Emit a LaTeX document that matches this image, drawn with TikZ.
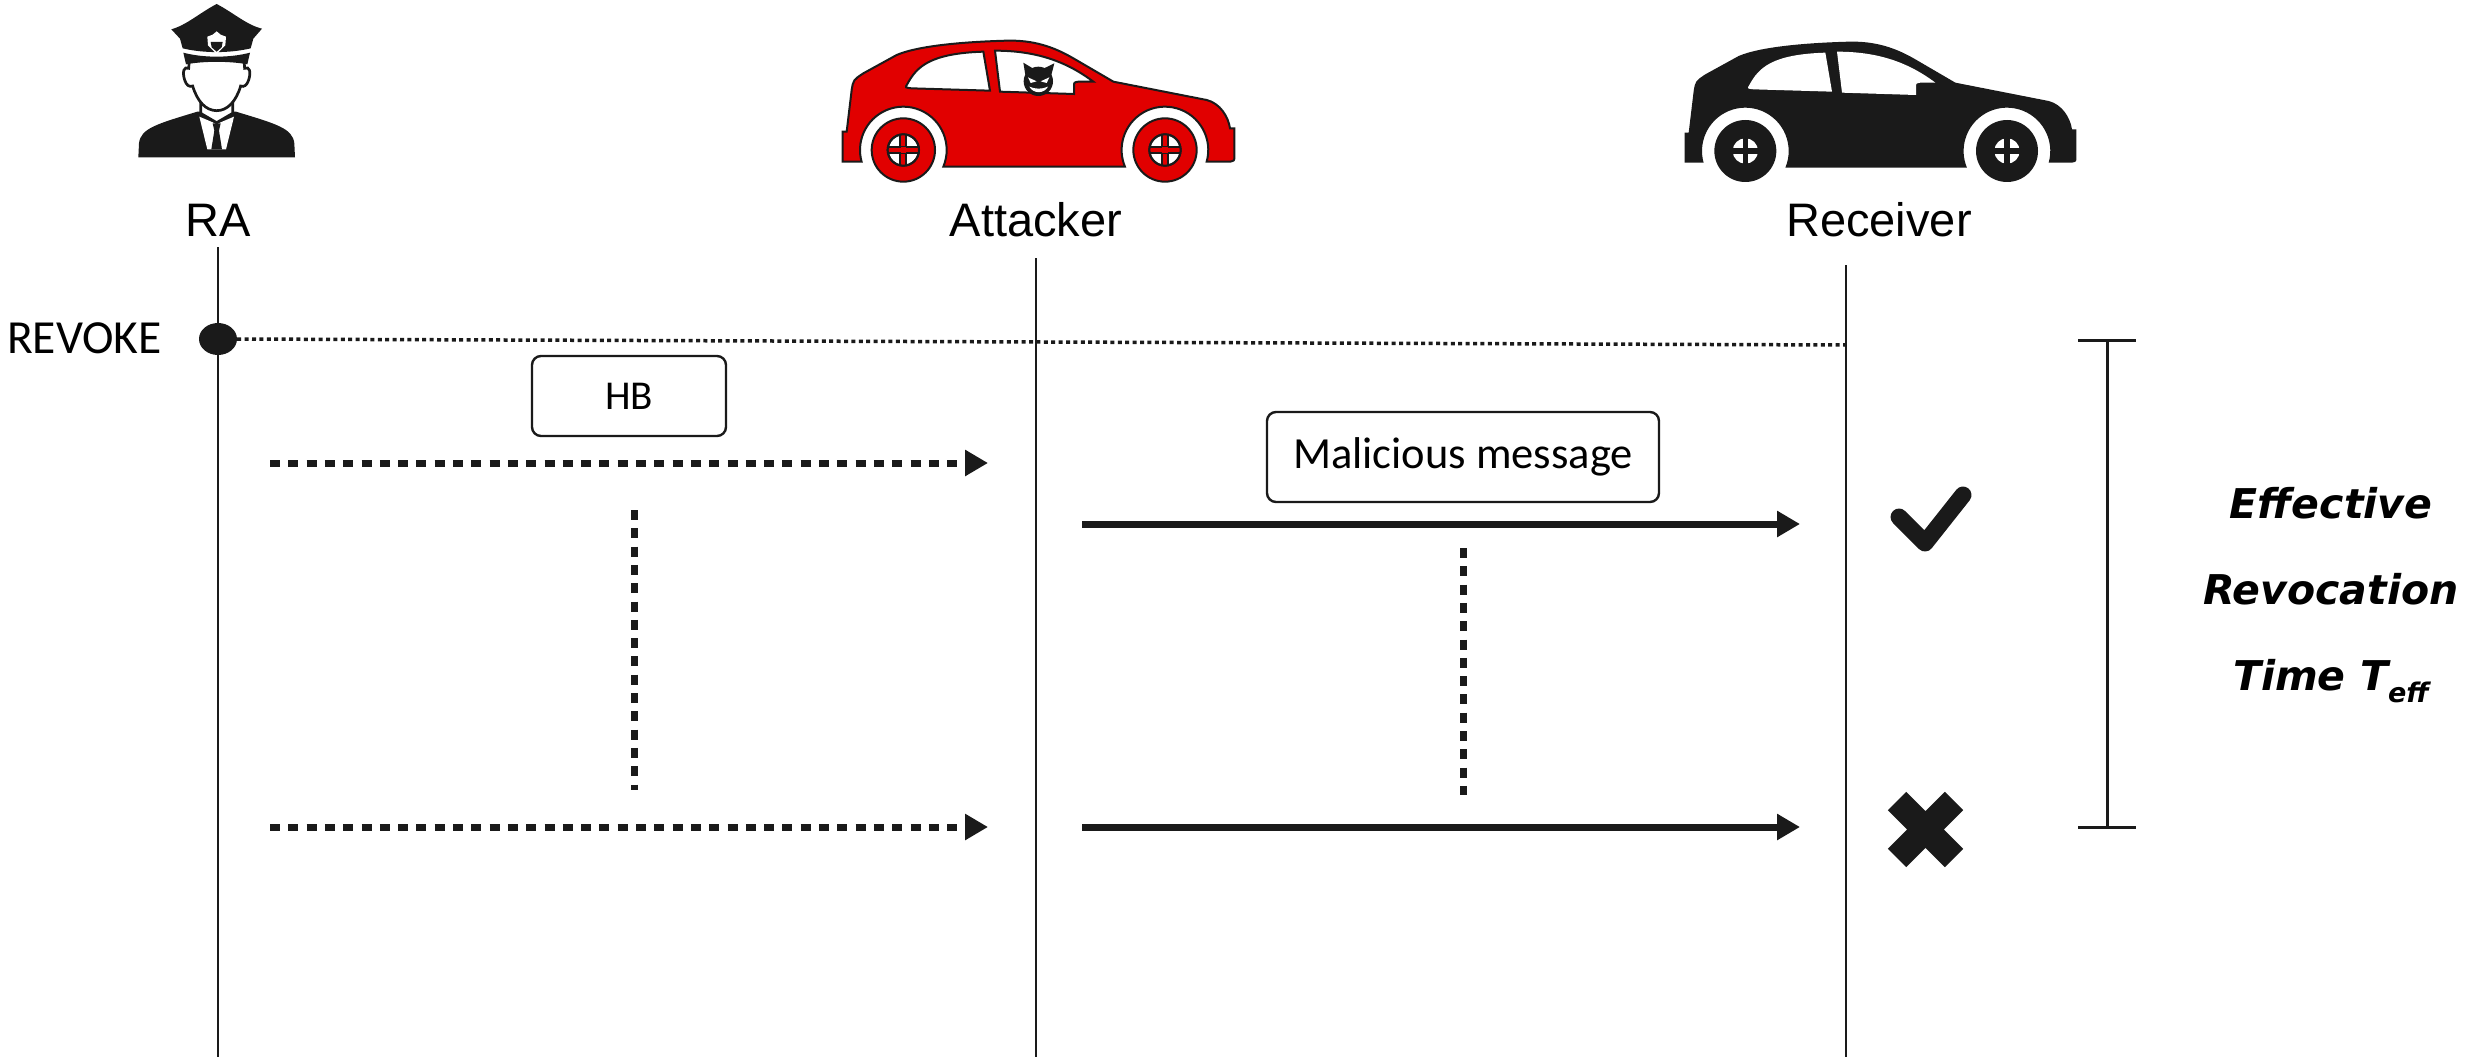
\documentclass[tikz,border=0pt]{standalone}
\usepackage{fontspec}
\setmainfont{Liberation Sans}
\newfontfamily\uifont{Carlito}
\newfontfamily\notefont{DejaVu Sans}
\usetikzlibrary{arrows.meta,shapes.geometric}

\definecolor{ink}{HTML}{1A1A1A}
\definecolor{carred}{HTML}{E10000}

% side view of a hatchback, drawn in a 3x local grid
\newcommand\carbodypath{(370,440) arc[start angle=22.6, end angle=-195.6, radius=130]
  -- (68,425) -- (68,335) -- (80,335) -- (95,210) .. controls (100,180) .. (130,160)
  -- (230,105) .. controls (300,75) and (450,65) .. (560,62)
  .. controls (640,60) and (700,80) .. (760,115) -- (880,185) -- (1160,240)
  .. controls (1200,250) and (1225,290) .. (1230,325) -- (1243,325) -- (1243,410)
  .. controls (1243,422) .. (1230,425) -- (1160,425)
  arc[start angle=15.6, end angle=-202.6, radius=130] -- cycle}
\newcommand\rearwindowpath{(262,192) .. controls (290,140) and (330,100) .. (490,95)
  -- (510,212) -- (275,205) .. controls (255,203) .. (262,192) -- cycle}
\newcommand\frontwindowpath{(525,92) .. controls (650,92) and (740,125) .. (820,185)
  -- (775,185) .. controls (762,187) .. (762,200) -- (762,222) -- (540,215) -- cycle}

\begin{document}
\begin{tikzpicture}[x=1pt,y=-1pt,
  lifeline/.style={draw=ink, line width=2.4pt},
  actor/.style={font=\fontsize{47}{56}\selectfont, anchor=base, inner sep=0pt},
  msgbox/.style={draw=ink, line width=2.4pt, rounded corners=9pt, fill=white,
    font=\uifont\fontsize{44.5}{52}\selectfont, inner sep=0pt},
  hbarrow/.style={draw=ink, line width=7pt, dash pattern=on 10pt off 8.3pt,
    -{Triangle[length=23pt,width=25pt]}},
  msgarrow/.style={draw=ink, line width=7pt, -{Triangle[length=23pt,width=25pt]}},
  vdots/.style={draw=ink, line width=7pt, dash pattern=on 10pt off 8.3pt},
  revdot/.style={ellipse, fill=ink, minimum width=38pt, minimum height=32pt, inner sep=0pt},
  revline/.style={draw=ink, line width=3.5pt, dash pattern=on 4pt off 3.4pt},
  bracket/.style={draw=ink, line width=3pt},
  carline/.style={draw=ink, line width=2pt},
]
\useasboundingbox (0,0) rectangle (2491,1057);

% ---------- RA: police officer ----------
\begin{scope}[shift={(120,0)}, scale=1/3]
  \fill[ink] (55,472) -- (57,430) .. controls (62,385) and (110,372) .. (232,335)
    -- (348,335) .. controls (470,372) and (518,385) .. (523,430) -- (525,472) -- cycle;
  \fill[white] (238,350) -- (290,372) -- (342,350) -- (318,448) -- (262,448) -- cycle;
  \draw[ink, line width=2.7pt, fill=white] (242,288) -- (242,340) -- (290,368) -- (338,340) -- (338,288);
  \fill[ink] (278,370) -- (302,370) -- (297,392) -- (306,448) -- (274,448) -- (283,392) -- cycle;
  \filldraw[fill=white, draw=ink, line width=2.7pt] (208,180) -- (206,205)
    .. controls (192,198) and (186,215) .. (194,240) .. controls (199,256) and (208,262) .. (218,258)
    .. controls (232,305) and (258,332) .. (290,332) .. controls (322,332) and (348,305) .. (362,258)
    .. controls (372,262) and (381,256) .. (386,240) .. controls (394,215) and (388,198) .. (374,205)
    -- (372,180) -- cycle;
  % cap
  \fill[ink] (154,88) .. controls (200,75) and (240,38) .. (290,12)
    .. controls (340,38) and (380,75) .. (426,86) -- (400,116) -- (392,145)
    .. controls (330,160) and (250,160) .. (188,145) -- (180,116) -- cycle;
  \fill[ink] (190,158) .. controls (250,174) and (330,174) .. (390,158) -- (382,193)
    .. controls (330,183) and (250,183) .. (198,193) -- cycle;
  \fill[white] (262,110) -- (278,104) -- (290,94) -- (302,104) -- (318,110) -- (316,136)
    -- (290,162) -- (264,136) -- cycle;
  \fill[ink] (272,126) -- (308,126) -- (305,142) -- (290,155) -- (275,142) -- cycle;
\end{scope}

% ---------- Attacker: red car ----------
\begin{scope}[shift={(820,20)}, scale=1/3]
  \filldraw[fill=carred, carline] \carbodypath;
  \filldraw[fill=white, carline] \rearwindowpath;
  \filldraw[fill=white, carline] \frontwindowpath;
  \foreach \wx in {250,1035}{
    \filldraw[fill=carred, carline] (\wx,390) circle[radius=95];
    \filldraw[fill=white, carline] (\wx,390) circle[radius=47];
    \begin{scope}
      \clip (\wx,390) circle[radius=47];
      \filldraw[fill=carred, carline] (\wx-9,330) rectangle (\wx+9,450);
      \filldraw[fill=carred, carline] (\wx-60,381) rectangle (\wx+60,399);
      \fill[carred] (\wx-8,382) rectangle (\wx+8,398);
    \end{scope}
    \draw[carline] (\wx,390) circle[radius=47];
  }
  % devil driver
  \fill[ink] (655,184) circle[radius=44];
  \fill[ink] (616,165) -- (610,128) -- (640,146) -- cycle;
  \fill[ink] (694,165) -- (703,130) -- (670,146) -- cycle;
  \fill[white] (624,172) -- (650,184) -- (632,189) -- cycle;
  \fill[white] (688,172) -- (662,184) -- (680,189) -- cycle;
  \fill[white] (628,200) .. controls (640,222) and (672,222) .. (684,200)
    .. controls (665,208) and (647,208) .. (628,200) -- cycle;
\end{scope}

% ---------- Receiver: black car ----------
\begin{scope}[shift={(1662,21)}, scale=1/3]
  \fill[ink] \carbodypath;
  \fill[white] \rearwindowpath;
  \fill[white] \frontwindowpath;
  \foreach \wx in {250,1035}{
    \fill[ink] (\wx,390) circle[radius=93];
    \fill[white] (\wx,390) circle[radius=38];
    \fill[ink] (\wx-8,340) rectangle (\wx+8,440);
    \fill[ink] (\wx-50,382) rectangle (\wx+50,398);
  }
\end{scope}

% ---------- actors and lifelines ----------
\node[actor] (ra)  at (218,236)  {RA};
\node[actor] (att) at (1036,236) {Attacker};
\node[actor] (rcv) at (1879,236) {Receiver};

\coordinate (raTop)  at (218,247);  \coordinate (raBot)  at (218,1057);
\coordinate (attTop) at (1036,258); \coordinate (attBot) at (1036,1057);
\coordinate (rcvTop) at (1846,265); \coordinate (rcvBot) at (1846,1057);
\draw[lifeline] (raTop) -- (raBot);
\draw[lifeline] (attTop) -- (attBot);
\draw[lifeline] (rcvTop) -- (rcvBot);

% ---------- revocation ----------
\node[revdot] (rev) at (218,339) {};
\node[font=\uifont\fontsize{47.5}{56}\selectfont, anchor=east, inner sep=0pt] (revtxt) at (162,338) {REVOKE};
\coordinate (revEnd) at (1846,345);
\draw[revline] (rev.east) -- (revEnd);

% ---------- heartbeats ----------
\node[msgbox, minimum width=194pt, minimum height=80pt, font=\uifont\fontsize{41}{48}\selectfont] (hb) at (629,396) {HB};
\coordinate (hb1s) at (270,463); \coordinate (hb1e) at (988,463);
\coordinate (hb2s) at (270,827); \coordinate (hb2e) at (988,827);
\draw[hbarrow] (hb1s) -- (hb1e);
\draw[hbarrow] (hb2s) -- (hb2e);
\coordinate (hbv1) at (634,510); \coordinate (hbv2) at (634,790);
\draw[vdots] (hbv1) -- (hbv2);

% ---------- malicious messages ----------
\node[msgbox, minimum width=392pt, minimum height=90pt] (mal) at (1463,457) {Malicious message};
\coordinate (m1s) at (1082,524); \coordinate (m1e) at (1800,524);
\coordinate (m2s) at (1082,827); \coordinate (m2e) at (1800,827);
\draw[msgarrow] (m1s) -- (m1e);
\draw[msgarrow] (m2s) -- (m2e);
\coordinate (mv1) at (1463,548); \coordinate (mv2) at (1463,795);
\draw[vdots] (mv1) -- (mv2);

% ---------- outcomes ----------
\coordinate (ckA) at (1899,517); \coordinate (ckB) at (1925,543); \coordinate (ckC) at (1963,495);
\draw[ink, line width=17pt, line cap=round, line join=round] (ckA) -- (ckB) -- (ckC);
\coordinate (xA) at (1897,801); \coordinate (xB) at (1954,858);
\coordinate (xC) at (1954,801); \coordinate (xD) at (1897,858);
\draw[ink, line width=26pt] (xA) -- (xB) (xC) -- (xD);

% ---------- effective revocation time ----------
\coordinate (brT) at (2107,340); \coordinate (brB) at (2107,827);
\coordinate (brTl) at (2078,340); \coordinate (brTr) at (2136,340);
\coordinate (brBl) at (2078,827); \coordinate (brBr) at (2136,827);
\draw[bracket] (brT) -- (brB);
\draw[bracket] (brTl) -- (brTr);
\draw[bracket] (brBl) -- (brBr);
\node[align=center, inner sep=0pt, font=\notefont\bfseries\itshape\fontsize{41}{86}\selectfont] (teff) at (2331,595)
  {Effective\\Revocation\\Time T\raisebox{-0.3em}{\fontsize{27}{27}\selectfont eff}};
\end{tikzpicture}
\end{document}
